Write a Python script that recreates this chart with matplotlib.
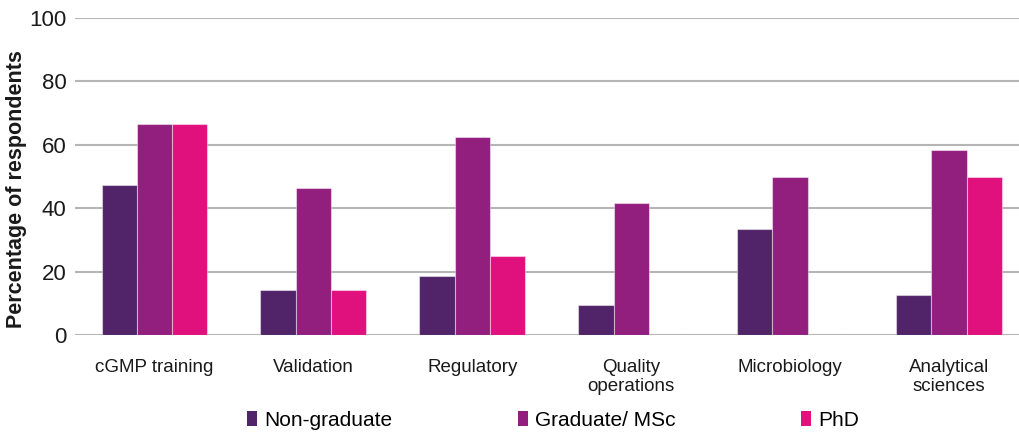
import matplotlib
matplotlib.use("Agg")
import matplotlib.pyplot as plt
import numpy as np
from matplotlib.patches import Patch

categories = ["cGMP training", "Validation", "Regulatory", "Quality\noperations",
              "Microbiology", "Analytical\nsciences"]
non_graduate = [47.4, 14.3, 18.75, 9.5, 33.3, 12.5]
graduate_msc = [66.7, 46.4, 62.5, 41.7, 50.0, 58.3]
phd = [66.7, 14.3, 25.0, 0, 0, 50.0]
series_names = ["Non-graduate", "Graduate/ MSc", "PhD"]
colors = ["#512469", "#921E7E", "#E0107D"]
yticks = [0, 20, 40, 60, 80, 100]

plt.rcParams['font.family'] = ['Liberation Sans', 'DejaVu Sans']

fig = plt.figure(figsize=(10.2, 4.34), dpi=100)
ax = fig.add_axes([75/1020, 1-335/434, (1028.5-75)/1020, (335-18)/434])

x = np.arange(len(categories))
w = 0.222
for i, (vals, c) in enumerate(zip([non_graduate, graduate_msc, phd], colors)):
    ax.bar(x + (i-1)*w, vals, width=w, color=c, edgecolor=(1, 1, 1, 0.45),
           linewidth=0.8, zorder=3)

ax.set_xlim(-0.5, len(categories)-0.5)
ax.set_ylim(0, 100)
ax.set_yticks(yticks)
ax.set_yticklabels([str(t) for t in yticks], fontsize=16, color="#1a1a1a")
ax.yaxis.grid(True, color="#b5b5b5", linewidth=1.5, zorder=0)
ax.set_axisbelow(True)
for s in ax.spines.values():
    s.set_visible(False)
ax.tick_params(axis='both', length=0)
ax.tick_params(axis='y', pad=6)
ax.set_xticks(x)
ax.set_xticklabels(categories, fontsize=13.5, color="#1a1a1a", linespacing=1.15)
ax.tick_params(axis='x', pad=17)
ax.set_ylabel("Percentage of respondents", fontsize=15.5, fontweight='bold',
              color="#1a1a1a")
ax.yaxis.set_label_coords(-0.050, 0.46)

handles = [Patch(facecolor=c, edgecolor='none') for c in colors]
leg = fig.legend(handles, series_names, loc='center', bbox_to_anchor=(553/1020, 1-420/434),
                 ncol=3, frameon=False, prop={'size': 15},
                 handlelength=0.5, handleheight=0.7, handletextpad=0.35,
                 columnspacing=6.0)

fig.savefig("out.png", dpi=100)
